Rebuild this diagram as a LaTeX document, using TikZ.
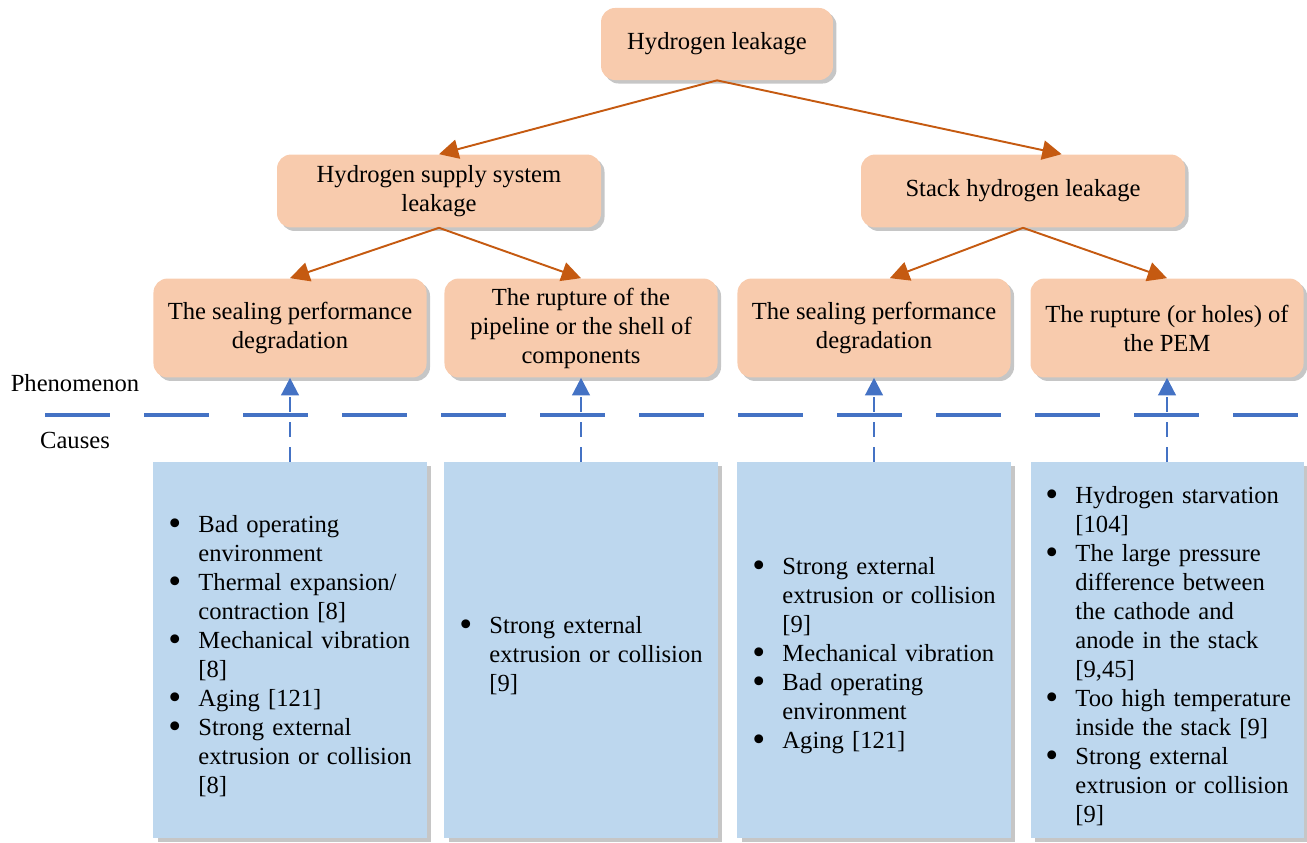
\documentclass[tikz,border=0pt]{standalone}
\usepackage{fontspec}
\setmainfont{Liberation Serif}
\usetikzlibrary{arrows.meta, shadows}

\definecolor{obox}{HTML}{F8CBAD}
\definecolor{oline}{HTML}{C55A11}
\definecolor{bbox}{HTML}{BDD7EE}
\definecolor{bline}{HTML}{4472C4}

\newcommand{\bitem}[1]{\par\leftskip=5.8pt\hangindent=17.1pt\hangafter=1\noindent\hbox to 17.1pt{\smash{\raisebox{-1.6pt}{\scalebox{1.5}{\textbullet}}}\hfil}#1\par}

\tikzset{
	txt/.style={font=\fontsize{14}{16.5}\selectfont},
	obox/.style={txt, rectangle, rounded corners=8pt, fill=obox, align=center,
		drop shadow={shadow xshift=2pt, shadow yshift=-2pt, opacity=0.45, fill=gray}},
	bbox/.style={txt, rectangle, fill=bbox, minimum width=155.4pt, minimum height=214pt,
		text width=150pt, inner xsep=2.7pt, align=left,
		drop shadow={shadow xshift=2.5pt, shadow yshift=-2.5pt, opacity=0.45, fill=gray}},
	oarrow/.style={draw=oline, line width=1.1pt, -{Triangle[length=11pt, width=11pt]}, color=oline},
	barrow/.style={draw=bline, line width=1.4pt, dash pattern=on 8.5pt off 5.7pt,
		-{Triangle[length=10pt, width=10pt]}, color=bline}
}

\begin{document}
\begin{tikzpicture}[x=0.02cm, y=-0.02cm]
	\useasboundingbox (0, 0) rectangle (1307, 842);

	% phenomenon
	\node[obox, minimum width=132pt, minimum height=41pt] (top) at (717, 44) {Hydrogen leakage};
	\node[obox, minimum width=184.4pt, minimum height=41.5pt] (sup) at (439, 191) {Hydrogen supply system\\leakage};
	\node[obox, minimum width=184.4pt, minimum height=41.5pt] (stk) at (1023, 191) {Stack hydrogen leakage};
	\node[obox, minimum width=155.4pt, minimum height=56.3pt] (p1) at (290, 328) {The sealing performance\\degradation};
	\node[obox, minimum width=155.4pt, minimum height=56.3pt] (p2) at (581, 328) {The rupture of the\\pipeline or the shell of\\components};
	\node[obox, minimum width=155.4pt, minimum height=56.3pt] (p3) at (874, 328) {The sealing performance\\degradation};
	\node[obox, minimum width=155.4pt, minimum height=56.3pt] (p4) at (1167, 328) {The rupture (or holes) of\\the PEM};

	\draw[oarrow] (top.south) -- (sup.north);
	\draw[oarrow] (top.south) -- ([xshift=22pt]stk.north);
	\draw[oarrow] (sup.south) -- (p1.north);
	\draw[oarrow] (sup.south) -- (p2.north);
	\draw[oarrow] (stk.south) -- ([xshift=9pt]p3.north);
	\draw[oarrow] (stk.south) -- (p4.north);

	\node[txt] (phen) at (75, 383) {Phenomenon};
	\node[txt] (caus) at (75, 440) {Causes};
	\coordinate (l0) at (45, 415);
	\coordinate (l1) at (1299, 415);
	\draw[bline, line width=2.3pt, dash pattern=on 37pt off 19.35pt] (l0) -- (l1);

	% causes
	\node[bbox] (c1) at (290, 650) {%
		\bitem{Bad operating\newline environment}
		\bitem{Thermal expansion/\newline contraction [8]}
		\bitem{Mechanical vibration\newline [8]}
		\bitem{Aging [121]}
		\bitem{Strong external\newline extrusion or collision\newline [8]}};
	\node[bbox] (c2) at (581, 650) {%
		\bitem{Strong external\newline extrusion or collision\newline [9]}};
	\node[bbox] (c3) at (874, 650) {%
		\bitem{Strong external\newline extrusion or collision\newline [9]}
		\bitem{Mechanical vibration}
		\bitem{Bad operating\newline environment}
		\bitem{Aging [121]}};
	\node[bbox] (c4) at (1167, 650) {%
		\bitem{Hydrogen starvation\newline [104]}
		\bitem{The large pressure\newline difference between\newline the cathode and\newline anode in the stack\newline [9,45]}
		\bitem{Too high temperature\newline inside the stack [9]}
		\bitem{Strong external\newline extrusion or collision\newline [9]}};

	\draw[barrow] (c1.north) -- (p1.south);
	\draw[barrow] (c2.north) -- (p2.south);
	\draw[barrow] (c3.north) -- (p3.south);
	\draw[barrow] (c4.north) -- (p4.south);
\end{tikzpicture}
\end{document}
